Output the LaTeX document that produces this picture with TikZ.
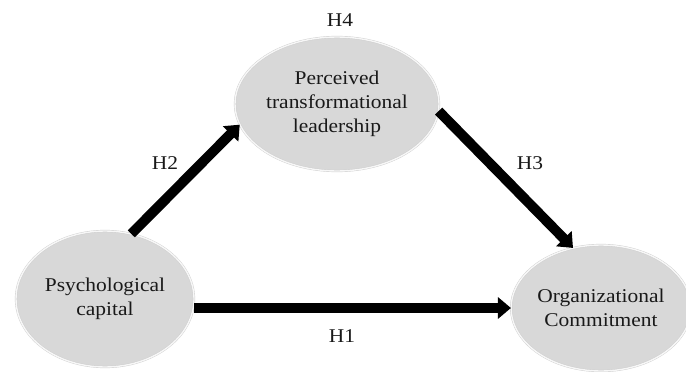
\documentclass[tikz,border=0pt]{standalone}
\usepackage{fontspec}
\setmainfont[FakeStretch=1.1]{Liberation Serif}
\usetikzlibrary{shapes.geometric,arrows.meta}
\definecolor{bubble}{RGB}{216,216,216}
\definecolor{rim}{RGB}{205,205,205}
\tikzset{
    bubble/.style={ellipse, fill=bubble, draw=rim, double=white!97!black, double distance=1.4pt,
        inner sep=0pt, align=center, text=black!90},
    link/.style={line width=10pt, -{Triangle[width=21pt,length=13pt]}},
    hyp/.style={text=black!90}
}
\begin{document}
\begin{tikzpicture}[x=1pt,y=-1pt,font=\fontsize{19.5}{24}\selectfont]
    \useasboundingbox (0,0) rectangle (686,372);
    \node[bubble, minimum width=204pt, minimum height=134pt] (ptl) at (337,104) {Perceived\\transformational\\leadership};
    \node[bubble, minimum width=178pt, minimum height=136pt] (psy) at (105,299) {Psychological\\capital};
    \node[bubble, minimum width=176pt, minimum height=126pt] (oc) at (601,308) {Organizational\\Commitment};
    \draw[link] (psy.68) -- (ptl.192);
    \draw[link] (ptl.356) -- (oc.115);
    \draw[link] (psy.east |- oc.west) -- (oc.west);
    \node[hyp] (h4) at (340,20) {H4};
    \node[hyp] (h2) at (165,163) {H2};
    \node[hyp] (h3) at (530,163) {H3};
    \node[hyp] (h1) at (342,336) {H1};
\end{tikzpicture}
\end{document}
